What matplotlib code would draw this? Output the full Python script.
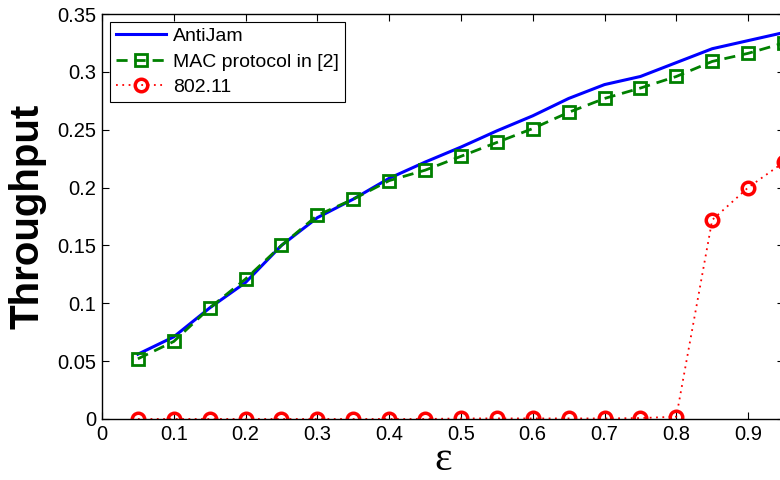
import matplotlib
matplotlib.use('Agg')
import matplotlib.pyplot as plt

# epsilon values
eps = [0.05, 0.1, 0.15, 0.2, 0.25, 0.3, 0.35, 0.4, 0.45, 0.5,
       0.55, 0.6, 0.65, 0.7, 0.75, 0.8, 0.85, 0.9, 0.95]

antijam = [0.056, 0.071, 0.096, 0.118, 0.150, 0.174, 0.190, 0.208, 0.222, 0.235,
           0.249, 0.262, 0.277, 0.289, 0.296, 0.308, 0.320, 0.327, 0.334]
mac_prot = [0.052, 0.067, 0.096, 0.121, 0.150, 0.176, 0.190, 0.206, 0.215, 0.227,
            0.239, 0.251, 0.265, 0.277, 0.286, 0.296, 0.309, 0.316, 0.325]
dot11 = [0.0, 0.0, 0.0, 0.0, 0.0, 0.0, 0.0, 0.0, 0.0, 0.0005,
         0.0005, 0.0005, 0.0005, 0.0005, 0.0008, 0.002, 0.172, 0.200, 0.222]

xticks = [0, 0.1, 0.2, 0.3, 0.4, 0.5, 0.6, 0.7, 0.8, 0.9]
yticks = [0, 0.05, 0.1, 0.15, 0.2, 0.25, 0.3, 0.35]

plt.rcParams['font.family'] = ['Liberation Sans', 'DejaVu Sans']

fig = plt.figure(figsize=(7.8, 4.8), dpi=100)
# axes run past the right edge of the figure, like the cropped original
ax = fig.add_axes([102/780, 61/480, 682/780, 405/480])

ax.plot(eps, antijam, color='#0000ff', lw=2.2, label='AntiJam')
ax.plot(eps, mac_prot, color='#008000', lw=2.0, ls=(0, (4, 2.5)),
        marker='s', ms=9, mfc='none', mec='#008000', mew=2.0,
        label='MAC protocol in [2]')
ax.plot(eps, dot11, color='#ff0000', lw=1.3, ls=(0, (1, 2.5)),
        marker='o', ms=9, mfc='none', mec='#ff0000', mew=2.5,
        label='802.11')

ax.set_xlim(0, 0.95)
ax.set_ylim(0, 0.35)
ax.set_xticks(xticks)
ax.set_xticklabels(['0', '0.1', '0.2', '0.3', '0.4', '0.5', '0.6', '0.7', '0.8', '0.9'])
ax.set_yticks(yticks)
ax.set_yticklabels(['0', '0.05', '0.1', '0.15', '0.2', '0.25', '0.3', '0.35'])
ax.tick_params(direction='in', top=True, right=True, length=5, width=0.8,
               labelsize=14.5, pad=4)

for spine in ax.spines.values():
    spine.set_linewidth(1.0)

ax.set_ylabel('Throughput', fontsize=29, fontweight='bold', labelpad=8)
# x label placed by hand so its box stays inside the figure
fig.text(443/780, 0.002, 'ε', fontsize=30, ha='center', va='bottom',
         family=['Liberation Serif', 'DejaVu Serif'])

leg = ax.legend(loc='upper left', fontsize=14, fancybox=False, edgecolor='black',
                framealpha=1, handlelength=2.6, handletextpad=0.35,
                borderaxespad=0.4, labelspacing=0.4, borderpad=0.3)
leg.get_frame().set_linewidth(0.8)

fig.savefig('out.png', dpi=100)
